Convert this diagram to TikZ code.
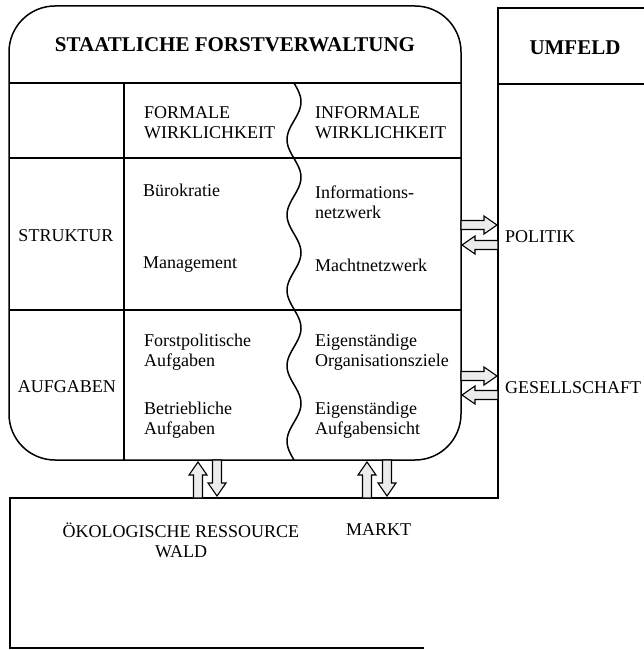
\documentclass[tikz,border=0pt]{standalone}
\usepackage{fontspec}
\setmainfont{Liberation Serif}

% hollow block arrow: #1 = tail coordinate, #2 = direction
\newcommand{\blockarrow}[2]{%
  \draw[blockarrow, shift={(#1)}, rotate=#2]
    (0,-4.5) -- (23,-4.5) -- (23,-9) -- (36,0) -- (23,9) -- (23,4.5) -- (0,4.5) -- cycle;}

\begin{document}
\begin{tikzpicture}[x=1pt, y=-1pt,
    frame/.style={line width=1.5pt},
    celltext/.style={anchor=west, align=left, inner sep=0pt, font=\fontsize{18}{20}\selectfont},
    headtext/.style={inner sep=0pt, font=\fontsize{21}{24}\selectfont\bfseries},
    blockarrow/.style={line width=1.1pt, fill=gray!15, line join=miter}]

    \useasboundingbox (0,0) rectangle (644,650);

    % Draw the rounded box of the forest administration
    \draw[frame, rounded corners=46pt] (9,6) rectangle (461,460);
    \draw[frame] (9,83) -- (461,83);
    \draw[frame] (9,158) -- (461,158);
    \draw[frame] (9,310) -- (461,310);
    \draw[frame] (124,83) -- (124,460);

    % Wavy border between formal and informal reality (period 75.4)
    \draw[frame] plot[domain=83:460, samples=150, smooth] ({294+7*sin(4.7745*(\x-83))}, \x);

    % Draw the surrounding environment
    \draw[frame] (644,8) -- (498,8) -- (498,498) -- (10,498) -- (10,648) -- (424,648);
    \draw[frame] (498,84) -- (644,84);

    % Headings
    \node[headtext] (titel) at (235,45) {STAATLICHE FORSTVERWALTUNG};
    \node[headtext] (umfeld) at (575,48) {UMFELD};

    % Cells of the table
    \node[celltext] (formal) at (144,123) {FORMALE\\WIRKLICHKEIT};
    \node[celltext] (informal) at (315,123) {INFORMALE\\WIRKLICHKEIT};
    \node[celltext] (buero) at (143,190) {Bürokratie};
    \node[celltext] (infonetz) at (315,202) {Informations-\\netzwerk};
    \node[celltext, anchor=center] (struktur) at (66,236) {STRUKTUR};
    \node[celltext] (management) at (143,265) {Management};
    \node[celltext] (machtnetz) at (315,265) {Machtnetzwerk};
    \node[celltext] (forstpol) at (144,352) {Forstpolitische\\Aufgaben};
    \node[celltext] (eigenziele) at (315,352) {Eigenständige\\Organisationsziele};
    \node[celltext, anchor=center] (aufgaben) at (67,387) {AUFGABEN};
    \node[celltext] (betrieb) at (144,420) {Betriebliche\\Aufgaben};
    \node[celltext] (eigensicht) at (315,420) {Eigenständige\\Aufgabensicht};

    % Labels of the environment
    \node[celltext] (politik) at (505,237) {POLITIK};
    \node[celltext] (gesellschaft) at (505,388) {GESELLSCHAFT};
    \node[celltext, align=center, anchor=center] (wald) at (181,540) {ÖKOLOGISCHE RESSOURCE\\WALD};
    \node[celltext] (markt) at (346,530) {MARKT};

    % Tails of the exchange arrows
    \coordinate (polout) at (461,225);
    \coordinate (polin) at (498,245);
    \coordinate (gesout) at (461,376);
    \coordinate (gesin) at (498,395);
    \coordinate (waldup) at (198,498);
    \coordinate (walddown) at (217,460);
    \coordinate (marktup) at (367,498);
    \coordinate (marktdown) at (387,460);

    % Draw the exchange arrows
    \blockarrow{polout}{0}
    \blockarrow{polin}{180}
    \blockarrow{gesout}{0}
    \blockarrow{gesin}{180}
    \blockarrow{waldup}{90}
    \blockarrow{walddown}{-90}
    \blockarrow{marktup}{90}
    \blockarrow{marktdown}{-90}

\end{tikzpicture}
\end{document}
